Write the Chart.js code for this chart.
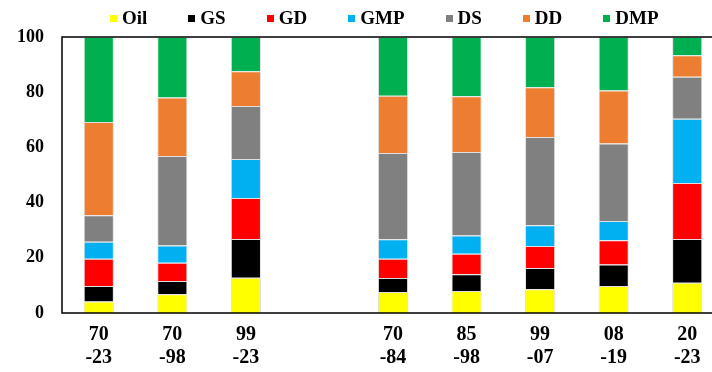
<!DOCTYPE html>
<html>
<head>
<meta charset="utf-8">
<script src="https://cdn.jsdelivr.net/npm/chart.js@4/dist/chart.umd.min.js"></script>
<style>
  html, body { margin: 0; padding: 0; background: #fff; overflow: hidden; }
  #wrap { position: relative; width: 724px; height: 372px; }
  #legend {
    position: absolute; left: 110px; top: 7px;
    display: flex; align-items: center; gap: 41px;
    font: bold 19px "Liberation Serif", "Times New Roman", serif; color: #000;
  }
  #legend .item { display: flex; align-items: center; }
  #legend .box { width: 7px; height: 7px; margin-right: 5px; }
</style>
</head>
<body>
<div id="wrap">
  <div id="legend"></div>
  <canvas id="chart" width="724" height="372"></canvas>
</div>
<script>
// Categories (index 3 is an empty spacer slot)
const periods = [['70', '-23'], ['70', '-98'], ['99', '-23'], '', ['70', '-84'], ['85', '-98'], ['99', '-07'], ['08', '-19'], ['20', '-23']];

const seriesNames = ['Oil', 'GS', 'GD', 'GMP', 'DS', 'DD', 'DMP'];
const seriesColors = ['#FFFF00', '#000000', '#FF0000', '#00B0F0', '#808080', '#ED7D31', '#00B050'];

// Shares (%) per period
const oil = [4.2, 6.8, 12.8, null, 7.6, 8.0, 8.6, 9.8, 11.0];
const gs  = [5.6, 4.8, 14.0, null, 5.1, 6.0, 7.7, 7.8, 15.8];
const gd  = [9.9, 6.6, 14.9, null, 7.0, 7.5, 8.0, 8.8, 20.3];
const gmp = [6.1, 6.3, 14.1, null, 7.0, 6.6, 7.5, 6.9, 23.3];
const ds  = [9.6, 32.4, 19.2, null, 31.3, 30.2, 32.0, 28.1, 15.2];
const dd  = [33.8, 21.2, 12.6, null, 20.7, 20.2, 18.0, 19.2, 7.8];
const dmp = [30.8, 21.9, 12.4, null, 21.3, 21.5, 18.2, 19.4, 6.6];

const seriesData = [oil, gs, gd, gmp, ds, dd, dmp];

// HTML legend
const legendEl = document.getElementById('legend');
seriesNames.forEach((name, i) => {
    const item = document.createElement('div');
    item.className = 'item';
    const box = document.createElement('span');
    box.className = 'box';
    box.style.background = seriesColors[i];
    const label = document.createElement('span');
    label.textContent = name;
    item.appendChild(box);
    item.appendChild(label);
    legendEl.appendChild(item);
});

// frame around the plot area
const frame = {
    id: 'frame',
    afterDraw(chart) {
        const { ctx, chartArea: a } = chart;
        ctx.save();
        ctx.strokeStyle = '#000';
        ctx.lineWidth = 1.5;
        ctx.strokeRect(a.left, a.top, a.right - a.left, a.bottom - a.top);
        ctx.restore();
    }
};

const tickFont = { family: '"Liberation Serif", "Times New Roman", serif', weight: 'bold' };

new Chart(document.getElementById('chart'), {
    type: 'bar',
    data: {
        labels: periods,
        datasets: seriesNames.map((name, i) => ({
            label: name,
            data: seriesData[i],
            backgroundColor: seriesColors[i],
            borderColor: 'rgba(210,210,210,0.7)',
            borderWidth: 1,
            categoryPercentage: 1,
            barPercentage: 0.41,
        }))
    },
    options: {
        responsive: false,
        devicePixelRatio: 1,
        animation: false,
        layout: { padding: { top: 37, left: 0, right: 0, bottom: 0 } },
        plugins: {
            legend: { display: false },
            tooltip: { enabled: false },
        },
        scales: {
            x: {
                stacked: true,
                grid: { display: false, drawTicks: false },
                border: { display: false },
                ticks: {
                    color: '#000',
                    padding: 10,
                    maxRotation: 0,
                    autoSkip: false,
                    font: { ...tickFont, size: 20, lineHeight: 1.15 },
                },
                afterFit(scale) { scale.height = 59; },
            },
            y: {
                stacked: true,
                min: 0,
                max: 100,
                grid: { display: false, drawTicks: false },
                border: { display: false },
                ticks: {
                    stepSize: 20,
                    color: '#000',
                    padding: 18,
                    font: { ...tickFont, size: 18 },
                },
                afterFit(scale) { scale.width = 62; },
            },
        },
    },
    plugins: [frame],
});
</script>
</body>
</html>
